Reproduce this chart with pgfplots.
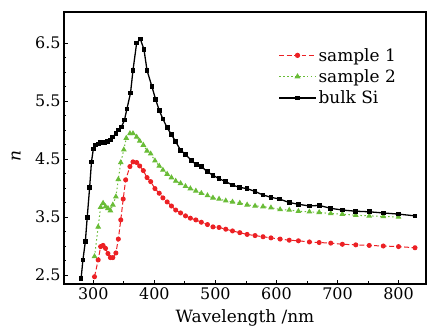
\documentclass[border=0pt]{standalone}
\usepackage{fontspec}
\setmainfont{DejaVu Serif}
\usepackage{pgfplots}
\pgfplotsset{compat=1.18}
\definecolor{cred}{RGB}{236,32,36}
\definecolor{cgreen}{RGB}{105,188,55}
\begin{document}
\begin{tikzpicture}
\begin{axis}[
  scale only axis, width=362bp, height=272bp,
  xmin=252, xmax=845, ymin=2.345, ymax=7.035,
  xtick={300,400,...,800}, minor x tick num=1,
  ytick={2.5,3.5,4.5,5.5,6.5}, minor y tick num=3,
  /pgf/number format/assume math mode=true,
  yticklabel style={/pgf/number format/fixed,/pgf/number format/precision=1,/pgf/number format/fixed zerofill},
  xtick pos=left, ytick pos=left,
  tick align=inside,
  major tick length=4bp, minor tick length=2.5bp,
  tick style={black, line width=0.8pt},
  axis line style={line width=1.1pt},
  tick label style={font=\fontsize{16}{18}\selectfont},
  label style={font=\fontsize{17}{19}\selectfont},
  xlabel={Wavelength /nm},
  xlabel style={at={(axis description cs:0.5,0)}, anchor=north, yshift=-22bp},
  ylabel={\itshape n},
  ylabel style={at={(axis description cs:-0.11,0.47)}, anchor=south},
  legend style={draw=none, fill=none, at={(axis description cs:0.592,0.875)}, anchor=north west,
    font=\fontsize{17}{19}\selectfont, row sep=3pt, inner sep=0pt},
  legend cell align=left,
  legend image code/.code={\draw[line width=1.2pt, mark repeat=2,mark phase=2] plot coordinates {(0cm,0cm) (0.65cm,0cm) (1.3cm,0cm)};},
]
\addplot[cred, line width=1pt, dash pattern=on 5pt off 2.5pt, mark=*, mark size=2pt, mark options={solid}] coordinates {
(302,2.47) (308,2.76) (312,2.99) (316,3.01) (320,2.96) (324,2.87) (328,2.80) (332,2.80) (337,2.88) (341,3.12)
(345,3.45) (349,3.81) (353,4.14) (360,4.37) (365,4.45) (371,4.44) (376,4.38) (382,4.30) (388,4.18) (394,4.11)
(401,3.99) (408,3.91) (414,3.83) (421,3.76) (428,3.69) (435,3.62) (443,3.57) (451,3.52) (459,3.48) (468,3.45)
(477,3.41) (487,3.37) (496,3.33) (506,3.32) (517,3.29) (528,3.26) (540,3.23) (552,3.20) (565,3.18) (578,3.16)
(591,3.14) (606,3.12) (621,3.10) (636,3.09) (654,3.07) (670,3.06) (689,3.05) (708,3.03) (730,3.02) (752,3.01)
(775,3.00) (800,2.99) (827,2.97)};
\addlegendentry{sample 1}
\addplot[cgreen, line width=1pt, dash pattern=on 1.5pt off 2.5pt, mark=triangle*, mark size=2.4pt, mark options={solid}] coordinates {
(302,2.82) (308,3.33) (312,3.67) (316,3.74) (320,3.68) (324,3.65) (328,3.61) (332,3.71) (337,3.85) (341,4.15)
(345,4.44) (350,4.66) (354,4.86) (360,4.94) (365,4.94) (371,4.88) (376,4.81) (382,4.74) (388,4.64) (394,4.59)
(401,4.47) (408,4.38) (414,4.31) (421,4.24) (428,4.18) (435,4.12) (443,4.08) (451,4.03) (459,3.99) (468,3.95)
(477,3.91) (487,3.87) (496,3.83) (506,3.81) (517,3.78) (528,3.76) (540,3.74) (552,3.71) (565,3.69) (578,3.68)
(591,3.66) (606,3.63) (621,3.62) (636,3.60) (654,3.59) (670,3.58) (689,3.56) (708,3.55) (730,3.53) (752,3.52)
(775,3.51) (800,3.50)};
\addlegendentry{sample 2}
\addplot[black, line width=1.3pt, mark=square*, mark size=1.7pt] coordinates {
(280,2.44) (283,2.76) (287,3.08) (290,3.49) (294,4.01) (297,4.45) (300,4.67) (304,4.74) (308,4.76) (312,4.78)
(318,4.79) (323,4.80) (328,4.83) (332,4.88) (337,4.94) (341,5.00) (346,5.05) (351,5.17) (355,5.36) (361,5.64)
(365,6.03) (371,6.50) (377,6.57) (383,6.39) (388,6.03) (396,5.75) (402,5.53) (408,5.34) (414,5.19) (421,5.04)
(428,4.92) (435,4.80) (443,4.65) (451,4.58) (461,4.47) (469,4.40) (477,4.37) (487,4.28) (496,4.22) (506,4.16)
(517,4.11) (528,4.05) (540,4.01) (552,3.99) (565,3.94) (578,3.88) (591,3.84) (605,3.81) (621,3.75) (636,3.72)
(654,3.69) (670,3.70) (689,3.65) (708,3.62) (730,3.60) (752,3.59) (775,3.57) (800,3.55) (827,3.52)};
\addlegendentry{bulk Si}
\end{axis}
\pgfresetboundingbox
\path[use as bounding box] ([xshift=-64bp,yshift=-48bp]current axis.south west) rectangle ([xshift=1bp,yshift=12bp]current axis.north east);
\end{tikzpicture}
\end{document}
